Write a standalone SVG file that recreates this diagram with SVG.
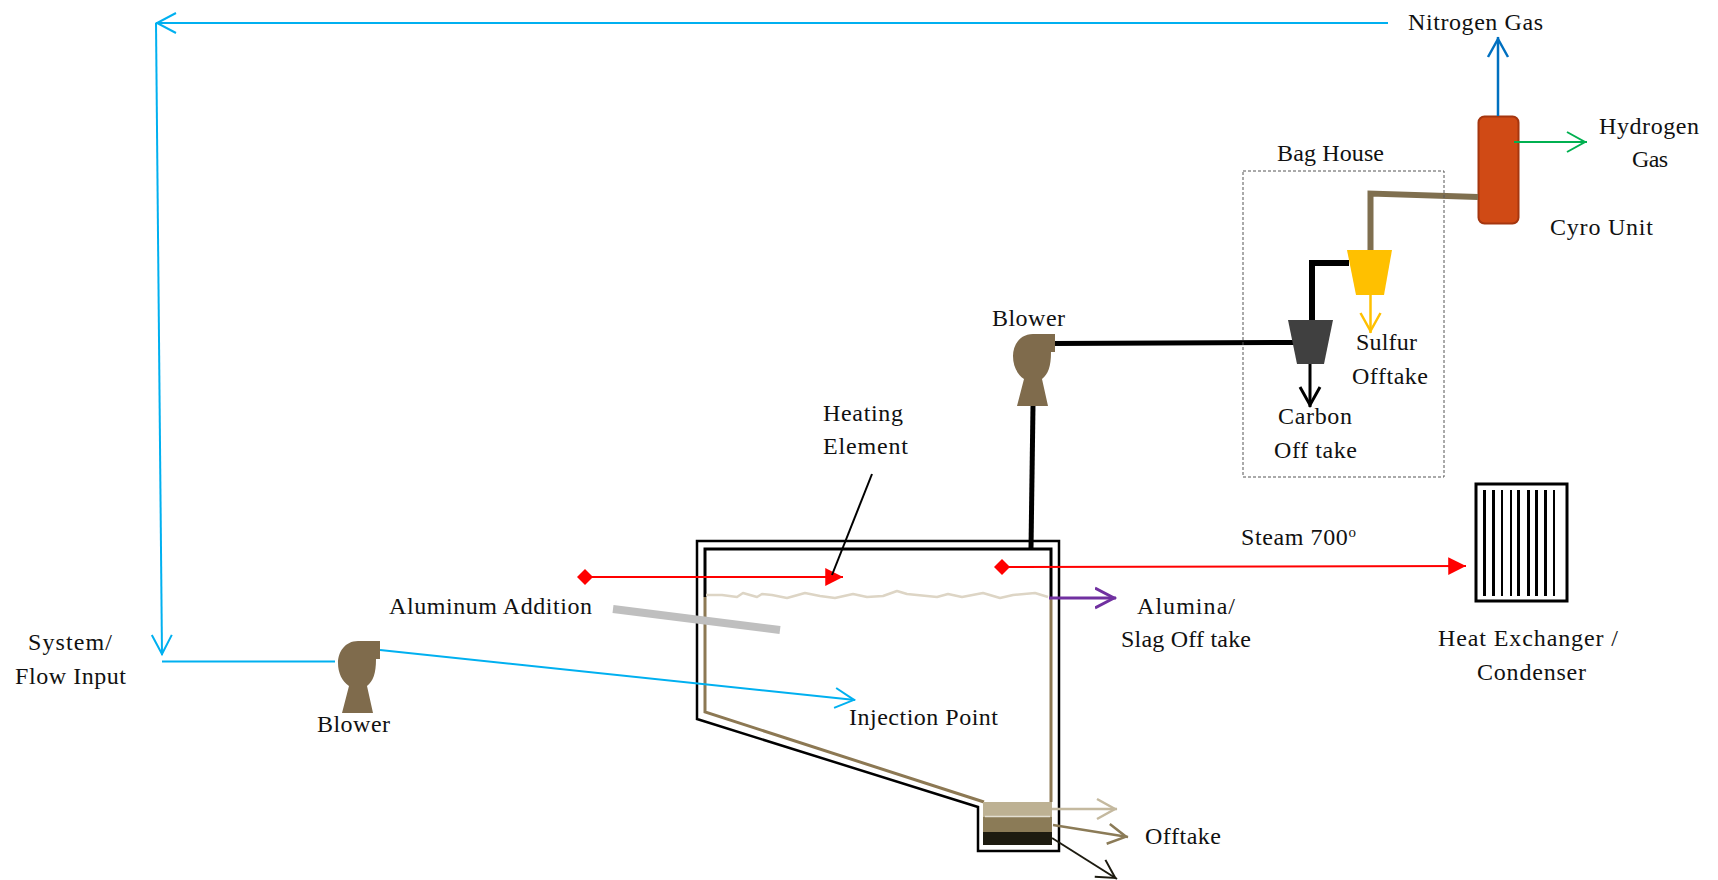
<svg xmlns="http://www.w3.org/2000/svg" width="1718" height="880" viewBox="0 0 1718 880">
<style>
text{font-family:"Liberation Serif","Times New Roman",serif;font-size:24px;fill:#111}
.l{fill:none}
.sky{stroke:#00b0f0;stroke-width:2}
.red{stroke:#ff0000;stroke-width:2}
.pipe{fill:none;stroke:#000;stroke-linejoin:miter}
.brn{fill:none;stroke:#8c7853;stroke-width:3}
.bar{fill:#000}
</style>
<defs>
<marker id="aSky" markerUnits="userSpaceOnUse" markerWidth="24" markerHeight="26" viewBox="-21 -13 24 26" refX="0" refY="0" orient="auto"><path d="M-20,-10L-1,0L-20,10" fill="none" stroke="#00b0f0" stroke-width="2"/></marker>
<marker id="aBlue" markerUnits="userSpaceOnUse" markerWidth="24" markerHeight="26" viewBox="-21 -13 24 26" refX="0" refY="0" orient="auto"><path d="M-20,-10L-2,0L-20,10" fill="none" stroke="#0070c0" stroke-width="2.5"/></marker>
<marker id="aGreen" markerUnits="userSpaceOnUse" markerWidth="24" markerHeight="26" viewBox="-21 -13 24 26" refX="0" refY="0" orient="auto"><path d="M-20,-10L-2,0L-20,10" fill="none" stroke="#00b050" stroke-width="2"/></marker>
<marker id="aYel" markerUnits="userSpaceOnUse" markerWidth="24" markerHeight="26" viewBox="-21 -13 24 26" refX="0" refY="0" orient="auto"><path d="M-20,-10L-2,0L-20,10" fill="none" stroke="#ffc000" stroke-width="2.5"/></marker>
<marker id="aBlk" markerUnits="userSpaceOnUse" markerWidth="24" markerHeight="26" viewBox="-21 -13 24 26" refX="0" refY="0" orient="auto"><path d="M-20,-10L-2,0L-20,10" fill="none" stroke="#000" stroke-width="3"/></marker>
<marker id="aPur" markerUnits="userSpaceOnUse" markerWidth="24" markerHeight="26" viewBox="-21 -13 24 26" refX="0" refY="0" orient="auto"><path d="M-21,-10L-2,0L-21,10" fill="none" stroke="#7030a0" stroke-width="3"/></marker>
<marker id="aTan" markerUnits="userSpaceOnUse" markerWidth="24" markerHeight="26" viewBox="-21 -13 24 26" refX="0" refY="0" orient="auto"><path d="M-20,-10L-2,0L-20,10" fill="none" stroke="#c4b99f" stroke-width="2.5"/></marker>
<marker id="aBrn" markerUnits="userSpaceOnUse" markerWidth="24" markerHeight="26" viewBox="-21 -13 24 26" refX="0" refY="0" orient="auto"><path d="M-20,-10L-2,0L-20,10" fill="none" stroke="#8b7b57" stroke-width="2.5"/></marker>
<marker id="aDrk" markerUnits="userSpaceOnUse" markerWidth="24" markerHeight="26" viewBox="-21 -13 24 26" refX="0" refY="0" orient="auto"><path d="M-20,-10L-2,0L-20,10" fill="none" stroke="#1d1b10" stroke-width="2"/></marker>
<marker id="tri" markerUnits="userSpaceOnUse" markerWidth="20" markerHeight="20" viewBox="-17 -9 18 18" refX="0" refY="0" orient="auto"><path d="M-16,-8L0,0L-16,8Z" fill="#ff0000"/></marker>
<path id="blowerShape" d="M380 641L358 641C345 641 338 652 338 663C338 673 342 681 349 686L342 713L373 713L367 686C373 681 376 674 376 659L380 659Z" fill="#7f6b4c"/>
<path id="diamond" d="M-8 0L0-8L8 0L0 8Z" fill="#ff0000"/>
</defs>

<g id="furnace">
<path d="M697 541H1059V851H978V807L697 719Z" fill="none" stroke="#000" stroke-width="2.5"/>
<path class="brn" d="M705 597V712L984 802"/>
<path class="brn" d="M1051 597V802"/>
<path class="pipe" stroke-width="3" d="M705 597V549H1051V597"/>
<path d="M706 595L722 595L737 597L743 593L757 597L762 594L772 595L787 598L805 593L820 596L835 598L853 594L867 597L883 596L897 591L907 594L937 597L948 594L962 597L983 593L1000 598L1013 595L1035 593L1048 597" fill="none" stroke="#ddd5c5" stroke-width="2.500" stroke-linejoin="round"/>
<rect x="983" y="802" width="69" height="15" fill="#bdb193"/>
<rect x="983" y="817" width="69" height="15" fill="#8b7b57"/>
<rect x="983" y="832" width="69" height="13" fill="#1d1b10"/>
<path d="M985 816.500H1050" stroke="#e4dfd2" stroke-width="1.500"/>
<path d="M613 609L780 630" stroke="#bfbfbf" stroke-width="8" fill="none"/>
</g>

<g id="cyro-unit"><rect x="1478.500" y="116.500" width="40" height="107" rx="6" fill="#d04a15" stroke="#a5360f" stroke-width="2"/></g>

<g id="connectors">
<path class="l sky" d="M1388 23H156" marker-end="url(#aSky)"/>
<path class="l sky" d="M156 23L162 655" marker-end="url(#aSky)"/>
<path class="l sky" d="M162 661.500H335"/>
<path class="l sky" d="M380 650L855 700" marker-end="url(#aSky)"/>
<path class="l red" d="M585 577H843" marker-end="url(#tri)"/>
<path class="l red" d="M1002 567L1466 566" marker-end="url(#tri)"/>
<path class="l" d="M872 474L832 575" stroke="#000" stroke-width="2"/>
<path class="l" d="M1049 598H1116" stroke="#7030a0" stroke-width="3" marker-end="url(#aPur)"/>
<path class="l" d="M1052 809H1117" stroke="#c4b99f" stroke-width="2.500" marker-end="url(#aTan)"/>
<path class="l" d="M1053 825L1128 837" stroke="#8b7b57" stroke-width="2.500" marker-end="url(#aBrn)"/>
<path class="l" d="M1052 838L1117 879" stroke="#1d1b10" stroke-width="2" marker-end="url(#aDrk)"/>
<path class="pipe" stroke-width="5" d="M1031 549L1033 405"/>
<path class="pipe" stroke-width="5" d="M1053 343.500L1295 342.500"/>
<path class="pipe" stroke-width="6" d="M1312 320V263H1349"/>
<path class="l" d="M1370.500 250V193.500L1478 197" stroke="#7f6f4f" stroke-width="6"/>
<path class="l" d="M1370.500 295V333" stroke="#ffc000" stroke-width="2.500" marker-end="url(#aYel)"/>
<path class="l" d="M1310 364V407" stroke="#000" stroke-width="3" marker-end="url(#aBlk)"/>
<path class="l" d="M1498 116V37" stroke="#0070c0" stroke-width="2.500" marker-end="url(#aBlue)"/>
<path class="l" d="M1514 142H1587" stroke="#00b050" stroke-width="2" marker-end="url(#aGreen)"/>
<use href="#diamond" x="585" y="577"/>
<use href="#diamond" x="1002" y="567"/>
</g>

<g id="blower-1"><use href="#blowerShape"/></g>
<g id="blower-2"><use href="#blowerShape" x="675" y="-307"/></g>

<g id="bag-house"><rect x="1243" y="171" width="201" height="306" fill="none" stroke="#555" stroke-width="1" stroke-dasharray="3 2"/></g>
<g id="carbon-filter"><path d="M1288 320H1333L1324 364H1297Z" fill="#404040"/></g>
<g id="sulfur-filter"><path d="M1347 250H1392L1384 295H1356Z" fill="#ffc000"/></g>
<g id="heat-exchanger">
<rect x="1476" y="484" width="91" height="117" fill="#fff" stroke="#000" stroke-width="3"/>
<rect class="bar" x="1483" y="490" width="3" height="106"/>
<rect class="bar" x="1492" y="490" width="3" height="106"/>
<rect class="bar" x="1501" y="490" width="2" height="106"/>
<rect class="bar" x="1510" y="490" width="2" height="106"/>
<rect class="bar" x="1517" y="490" width="3" height="106"/>
<rect class="bar" x="1527" y="490" width="3" height="106"/>
<rect class="bar" x="1535" y="490" width="3" height="106"/>
<rect class="bar" x="1544" y="490" width="3" height="106"/>
<rect class="bar" x="1553" y="490" width="2" height="106"/>
</g>

<g id="labels">
<text x="1408" y="30" textLength="135">Nitrogen Gas</text>
<text x="1599" y="134" textLength="100">Hydrogen</text>
<text x="1632" y="167" textLength="36">Gas</text>
<text x="1277" y="161" textLength="107">Bag House</text>
<text x="1550" y="235" textLength="103">Cyro Unit</text>
<text x="1356" y="350" textLength="61">Sulfur</text>
<text x="1352" y="384" textLength="76">Offtake</text>
<text x="1278" y="424" textLength="74">Carbon</text>
<text x="1274" y="458" textLength="83">Off take</text>
<text x="992" y="326" textLength="73">Blower</text>
<text x="823" y="421" textLength="80">Heating</text>
<text x="823" y="454" textLength="85">Element</text>
<text x="1241" y="545" letter-spacing="0.600">Steam 700<tspan font-size="15" dy="-8">o</tspan></text>
<text x="1137" y="614" textLength="98">Alumina/</text>
<text x="1121" y="647" textLength="130">Slag Off take</text>
<text x="1438" y="646" textLength="180">Heat Exchanger /</text>
<text x="1477" y="680" textLength="109">Condenser</text>
<text x="389" y="614" textLength="203">Aluminum Addition</text>
<text x="317" y="732" textLength="73">Blower</text>
<text x="849" y="725" textLength="149">Injection Point</text>
<text x="1145" y="844" textLength="76">Offtake</text>
<text x="28" y="650" textLength="84">System/</text>
<text x="15" y="684" textLength="111">Flow Input</text>
</g>
</svg>
